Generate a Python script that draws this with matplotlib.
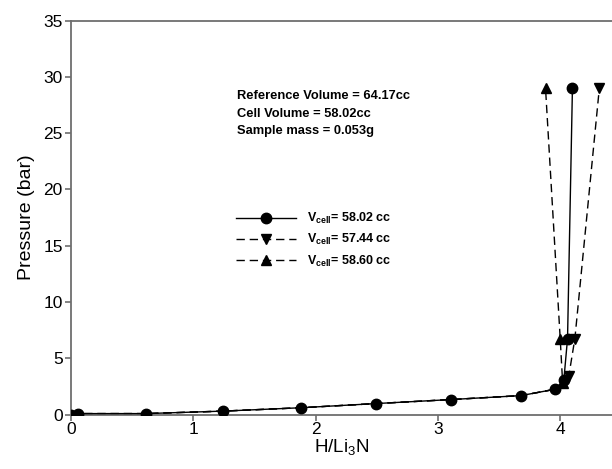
import matplotlib
matplotlib.use("Agg")
import matplotlib.pyplot as plt

plt.rcParams['font.family'] = ['Liberation Sans', 'DejaVu Sans']
plt.rcParams['mathtext.fontset'] = 'custom'
plt.rcParams['mathtext.rm'] = 'Liberation Sans'
plt.rcParams['mathtext.bf'] = 'Liberation Sans:bold'
plt.rcParams['mathtext.it'] = 'Liberation Sans:italic'

# Data (H/Li3N vs pressure in bar)
x_58_02 = [0.0, 0.06, 0.61, 1.24, 1.88, 2.49, 3.11, 3.68, 3.96, 4.03, 4.06, 4.10]
p_58_02 = [0.0, 0.08, 0.08, 0.30, 0.60, 0.97, 1.33, 1.68, 2.25, 3.10, 6.75, 29.0]

x_57_44 = [0.0, 0.06, 0.61, 1.24, 1.88, 2.49, 3.11, 3.68, 3.96, 4.07, 4.12, 4.32]
p_57_44 = [0.0, 0.08, 0.08, 0.30, 0.60, 0.97, 1.33, 1.68, 2.25, 3.40, 6.75, 29.0]

x_58_60 = [0.0, 0.06, 0.61, 1.24, 1.88, 2.49, 3.11, 3.68, 3.96, 4.02, 4.00, 3.88]
p_58_60 = [0.0, 0.08, 0.08, 0.30, 0.60, 0.97, 1.33, 1.68, 2.25, 2.80, 6.75, 29.0]

labels = [r'V$_{\mathbf{cell}}$= 58.02 cc',
          r'V$_{\mathbf{cell}}$= 57.44 cc',
          r'V$_{\mathbf{cell}}$= 58.60 cc']

info_lines = ['Reference Volume = 64.17cc',
              'Cell Volume = 58.02cc',
              'Sample mass = 0.053g']

xticks = [0, 1, 2, 3, 4]
yticks = [0, 5, 10, 15, 20, 25, 30, 35]

fig = plt.figure(figsize=(6.12, 4.69), dpi=100)
ax = fig.add_axes([71/612, (469-414.5)/469, 1 - 71/612, (414.5-20.7)/469])

dash = (0, (6, 3.5))
knee = [9, 10, 11]
l2, = ax.plot(x_57_44, p_57_44, color='black', lw=1.0, linestyle=dash,
              marker='v', markersize=7.5, markevery=knee, zorder=2)
l3, = ax.plot(x_58_60, p_58_60, color='black', lw=1.0, linestyle=dash,
              marker='^', markersize=7.5, markevery=knee, zorder=2)
l1, = ax.plot(x_58_02, p_58_02, color='black', lw=1.0, linestyle='-',
              marker='o', markersize=7.5, zorder=3)

ax.set_xlim(0, (612 - 71) / 122.3)
ax.set_ylim(0, 35)
ax.set_xticks(xticks)
ax.set_yticks(yticks)
ax.set_xticklabels([str(v) for v in xticks])
ax.set_yticklabels([str(v) for v in yticks])

spine_col = '#6e6e6e'
for s in ['left', 'top', 'bottom']:
    ax.spines[s].set_color(spine_col)
    ax.spines[s].set_linewidth(1.3)
ax.spines['right'].set_visible(False)
ax.tick_params(axis='both', direction='out', length=4.5, width=1.2,
               color=spine_col, labelsize=12.5, pad=1.5)
ax.tick_params(axis='x', pad=1)

ax.set_xlabel('H/Li$_3$N', fontsize=13.5, labelpad=0)
ax.set_ylabel('Pressure (bar)', fontsize=14, labelpad=6)

ytop = 1 - 96/469
for i, line in enumerate(info_lines):
    fig.text(237/612, ytop - i * 17.5/469, line, fontsize=9.3,
             fontweight='bold', va='center', ha='left')

leg = ax.legend([l1, l2, l3], labels, loc='upper left', frameon=False,
                bbox_to_anchor=((237 - 71 - 6) / 541, (414.5 - 206) / 393.8),
                handlelength=4.8, handletextpad=0.9, labelspacing=0.5,
                prop={'size': 9, 'weight': 'bold'}, borderaxespad=0)

fig.savefig('out.png', dpi=100)
